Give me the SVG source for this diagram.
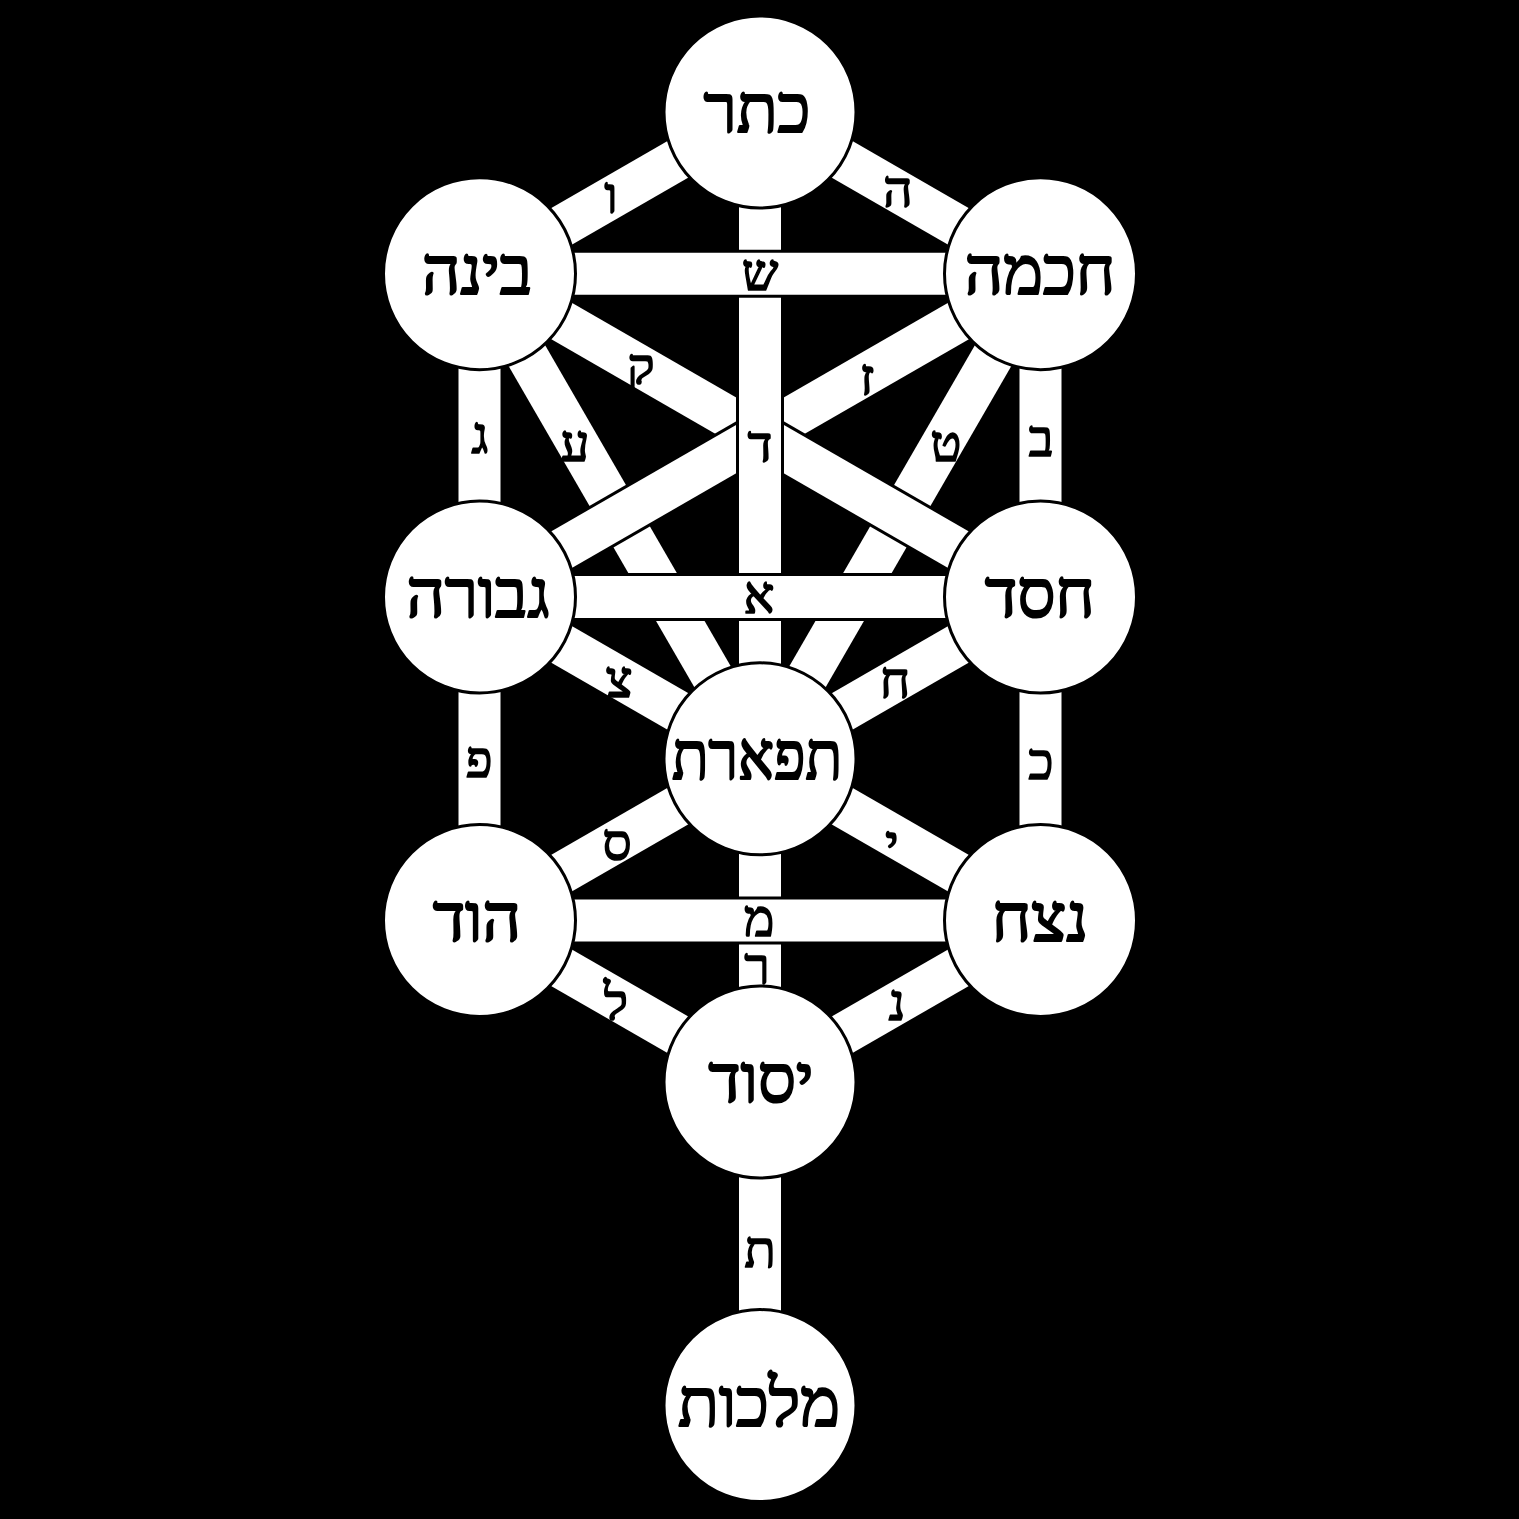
<svg xmlns="http://www.w3.org/2000/svg" width="1519" height="1519" viewBox="0 0 1519 1519">
<style>
.b{stroke:#000;stroke-width:48;stroke-linecap:butt}
.w{stroke:#fff;stroke-width:42;stroke-linecap:butt}
.node circle{fill:#fff;stroke:#000;stroke-width:3}
.nt{font-family:"Liberation Serif","DejaVu Serif",serif;font-size:67px;fill:#000;stroke:#000;stroke-width:2.2;stroke-linejoin:round;text-anchor:middle}
.pt{font-family:"Liberation Serif","DejaVu Serif",serif;font-size:51px;fill:#000;stroke:#000;stroke-width:1.7;stroke-linejoin:round;text-anchor:middle}
</style>
<rect x="0" y="0" width="1519" height="1519" fill="#000"/>
<g id="connectors">
<line class="b" x1="479.5" y1="273.7" x2="760" y2="758.8"/><line class="w" x1="479.5" y1="273.7" x2="760" y2="758.8"/>
<line class="b" x1="1040.5" y1="273.7" x2="760" y2="758.8"/><line class="w" x1="1040.5" y1="273.7" x2="760" y2="758.8"/>
<line class="b" x1="479.5" y1="273.7" x2="760" y2="435.35"/><line class="w" x1="479.5" y1="273.7" x2="760" y2="435.35"/>
<line class="b" x1="1040.5" y1="273.7" x2="760" y2="435.35"/><line class="w" x1="1040.5" y1="273.7" x2="760" y2="435.35"/>
<line class="b" x1="760" y1="435.35" x2="479.5" y2="597"/><line class="w" x1="760" y1="435.35" x2="479.5" y2="597"/>
<line class="b" x1="760" y1="435.35" x2="1040.5" y2="597"/><line class="w" x1="760" y1="435.35" x2="1040.5" y2="597"/>
<line class="b" x1="760" y1="112" x2="760" y2="758.8"/><line class="w" x1="760" y1="112" x2="760" y2="758.8"/>
<line class="b" x1="479.5" y1="273.7" x2="1040.5" y2="273.7"/><line class="w" x1="479.5" y1="273.7" x2="1040.5" y2="273.7"/>
<line class="b" x1="479.5" y1="597" x2="1040.5" y2="597"/><line class="w" x1="479.5" y1="597" x2="1040.5" y2="597"/>
<line class="b" x1="760" y1="112" x2="479.5" y2="273.7"/><line class="w" x1="760" y1="112" x2="479.5" y2="273.7"/>
<line class="b" x1="760" y1="112" x2="1040.5" y2="273.7"/><line class="w" x1="760" y1="112" x2="1040.5" y2="273.7"/>
<line class="b" x1="479.5" y1="273.7" x2="479.5" y2="597"/><line class="w" x1="479.5" y1="273.7" x2="479.5" y2="597"/>
<line class="b" x1="1040.5" y1="273.7" x2="1040.5" y2="597"/><line class="w" x1="1040.5" y1="273.7" x2="1040.5" y2="597"/>
<line class="b" x1="479.5" y1="597" x2="760" y2="758.8"/><line class="w" x1="479.5" y1="597" x2="760" y2="758.8"/>
<line class="b" x1="1040.5" y1="597" x2="760" y2="758.8"/><line class="w" x1="1040.5" y1="597" x2="760" y2="758.8"/>
<line class="b" x1="479.5" y1="597" x2="479.5" y2="920.5"/><line class="w" x1="479.5" y1="597" x2="479.5" y2="920.5"/>
<line class="b" x1="1040.5" y1="597" x2="1040.5" y2="920.5"/><line class="w" x1="1040.5" y1="597" x2="1040.5" y2="920.5"/>
<line class="b" x1="760" y1="758.8" x2="479.5" y2="920.5"/><line class="w" x1="760" y1="758.8" x2="479.5" y2="920.5"/>
<line class="b" x1="760" y1="758.8" x2="1040.5" y2="920.5"/><line class="w" x1="760" y1="758.8" x2="1040.5" y2="920.5"/>
<line class="b" x1="760" y1="758.8" x2="760" y2="1082"/><line class="w" x1="760" y1="758.8" x2="760" y2="1082"/>
<line class="b" x1="479.5" y1="920.5" x2="1040.5" y2="920.5"/><line class="w" x1="479.5" y1="920.5" x2="1040.5" y2="920.5"/>
<line class="b" x1="479.5" y1="920.5" x2="760" y2="1082"/><line class="w" x1="479.5" y1="920.5" x2="760" y2="1082"/>
<line class="b" x1="1040.5" y1="920.5" x2="760" y2="1082"/><line class="w" x1="1040.5" y1="920.5" x2="760" y2="1082"/>
<line class="b" x1="760" y1="1082" x2="760" y2="1405.6"/><line class="w" x1="760" y1="1082" x2="760" y2="1405.6"/>
</g>
<g id="path-labels">
<text class="pt" x="611" y="213">ו</text>
<text class="pt" x="898" y="207">ה</text>
<text class="pt" x="760" y="290">ש</text>
<text class="pt" x="641" y="384">ק</text>
<text class="pt" x="867" y="395">ז</text>
<text class="pt" x="575" y="461">ע</text>
<text class="pt" x="760" y="462">ד</text>
<text class="pt" x="946" y="461">ט</text>
<text class="pt" x="480" y="453">ג</text>
<text class="pt" x="1041" y="456">ב</text>
<text class="pt" x="759" y="613">א</text>
<text class="pt" x="619" y="697">צ</text>
<text class="pt" x="895" y="698">ח</text>
<text class="pt" x="479" y="777">פ</text>
<text class="pt" x="1041" y="779">כ</text>
<text class="pt" x="617" y="860">ס</text>
<text class="pt" x="892" y="861">י</text>
<text class="pt" x="759" y="936">מ</text>
<text class="pt" x="757" y="984">ר</text>
<text class="pt" x="616" y="1020">ל</text>
<text class="pt" x="897" y="1020">נ</text>
<text class="pt" x="760" y="1267">ת</text>
</g>
<g id="keter" class="node"><circle cx="760" cy="112" r="96"/><text class="nt" x="757" y="132">כתר</text></g>
<g id="binah" class="node"><circle cx="479.5" cy="273.7" r="96"/><text class="nt" x="477" y="294">בינה</text></g>
<g id="chokhmah" class="node"><circle cx="1040.5" cy="273.7" r="96"/><text class="nt" x="1040" y="294">חכמה</text></g>
<g id="gevurah" class="node"><circle cx="479.5" cy="597" r="96"/><text class="nt" x="478" y="617">גבורה</text></g>
<g id="chesed" class="node"><circle cx="1040.5" cy="597" r="96"/><text class="nt" x="1040" y="617">חסד</text></g>
<g id="tiferet" class="node"><circle cx="760" cy="758.8" r="96"/><text class="nt" x="757" y="779" textLength="170" lengthAdjust="spacingAndGlyphs">תפארת</text></g>
<g id="hod" class="node"><circle cx="479.5" cy="920.5" r="96"/><text class="nt" x="477" y="941">הוד</text></g>
<g id="netzach" class="node"><circle cx="1040.5" cy="920.5" r="96"/><text class="nt" x="1040" y="941">נצח</text></g>
<g id="yesod" class="node"><circle cx="760" cy="1082" r="96"/><text class="nt" x="761" y="1102">יסוד</text></g>
<g id="malkuth" class="node"><circle cx="760" cy="1405.6" r="96"/><text class="nt" x="759" y="1426">מלכות</text></g>
</svg>
